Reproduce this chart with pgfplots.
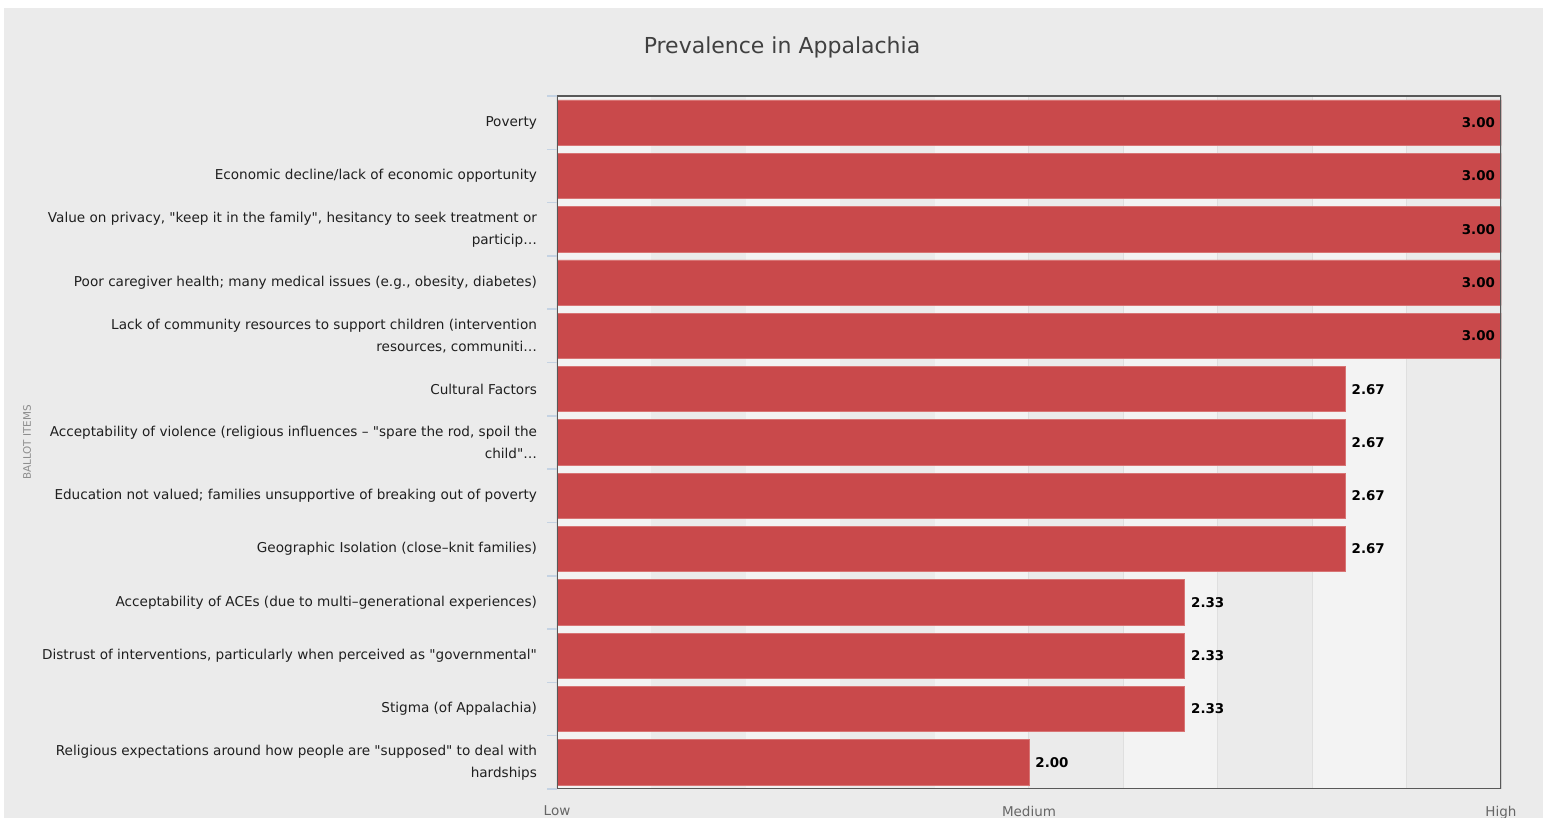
\documentclass[border=0pt]{standalone}
\usepackage{fontspec}
\setmainfont{DejaVu Sans}
\usepackage{pgfplots}
\pgfplotsset{compat=1.18}
\definecolor{bgc}{HTML}{EBEBEB}
\definecolor{bandl}{HTML}{F3F3F3}
\definecolor{bandd}{HTML}{EBEBEB}
\definecolor{barc}{HTML}{C9494B}
\definecolor{bare}{HTML}{D87474}
\definecolor{gridc}{HTML}{DFDFDF}
\definecolor{tickc}{HTML}{C5D3E3}
\definecolor{framec}{HTML}{585858}
\pagecolor{bgc}
\begin{document}
\begin{tikzpicture}[x=1pt,y=1pt]
\node[text=black!75, font=\fontsize{11}{14}\selectfont] at (391,386.5) {Prevalence in Appalachia};
\begin{axis}[
  at={(278.5pt,15.5pt)}, anchor=south west,
  scale only axis, width=472pt, height=346.5pt,
  set layers=standard,
  /pgf/number format/assume math mode=true,
  xbar, bar width=0.85, bar shift=0pt,
  xmin=1, xmax=3, ymin=-0.5, ymax=12.5, y dir=reverse,
  axis background/.style={fill=bandl},
  axis line style={draw=none},
  xtick={1,1.2,1.4,1.6,1.8,2,2.2,2.4,2.6,2.8,3},
  xticklabels={Low,,,,,Medium,,,,,High},
  xtick pos=bottom, ytick pos=left,
  xmajorgrids=true,
  major grid style={gridc, line width=0.6pt},
  major tick length=0pt,
  minor tick length=5pt,
  tick align=outside,
  ytick={0,1,...,12},
  minor ytick={-0.5,0.5,1.5,2.5,3.5,4.5,5.5,6.5,7.5,8.5,9.5,10.5,11.5,12.5},
  minor y tick style={tickc, line width=0.8pt},
  yticklabels={
    {Poverty},
    {Economic decline/lack of economic opportunity},
    {Value on privacy, \textquotedbl keep it in the family\textquotedbl, hesitancy to seek treatment or\\particip\ldots},
    {Poor caregiver health; many medical issues (e.g., obesity, diabetes)},
    {Lack of community resources to support children (intervention\\resources, communiti\ldots},
    {Cultural Factors},
    {Acceptability of violence (religious influences – \textquotedbl spare the rod, spoil the\\child\textquotedbl\ldots},
    {Education not valued; families unsupportive of breaking out of poverty},
    {Geographic Isolation (close–knit families)},
    {Acceptability of ACEs (due to multi–generational experiences)},
    {Distrust of interventions, particularly when perceived as \textquotedbl governmental\textquotedbl},
    {Stigma (of Appalachia)},
    {Religious expectations around how people are \textquotedbl supposed\textquotedbl{} to deal with\\hardships}
  },
  yticklabel style={font=\fontsize{6.8}{11}\selectfont, text=black!88, align=right, xshift=-6.5pt},
  xticklabel style={font=\fontsize{6.75}{9}\selectfont, text=black!60, yshift=-5pt},
  ylabel={BALLOT ITEMS},
  every axis y label/.style={at={(axis description cs:0,0.5)}, xshift=-265pt, rotate=90, anchor=center, font=\fontsize{5.2}{7}\selectfont, text=black!45},
  nodes near coords={\pgfmathprintnumber[fixed,zerofill,precision=2]{\pgfplotspointmeta}},
  every node near coord/.append style={font=\bfseries\fontsize{6.7}{9}\selectfont, text=black},
]
\fill[bandd, on layer=axis background] (axis cs:1.2,-0.5) rectangle (axis cs:1.4,12.5);
\fill[bandd, on layer=axis background] (axis cs:1.6,-0.5) rectangle (axis cs:1.8,12.5);
\fill[bandd, on layer=axis background] (axis cs:2.0,-0.5) rectangle (axis cs:2.2,12.5);
\fill[bandd, on layer=axis background] (axis cs:2.4,-0.5) rectangle (axis cs:2.6,12.5);
\fill[bandd, on layer=axis background] (axis cs:2.8,-0.5) rectangle (axis cs:3.0,12.5);
\addplot[fill=barc, draw=bare, line width=0.4pt,
  every node near coord/.append style={anchor=east, xshift=0.5pt}]
  coordinates {(3.00,0) (3.00,1) (3.00,2) (3.00,3) (3.00,4)};
\addplot[fill=barc, draw=bare, line width=0.4pt,
  every node near coord/.append style={anchor=west, xshift=-0.3pt}]
  coordinates {(2.67,5) (2.67,6) (2.67,7) (2.67,8) (2.33,9) (2.33,10) (2.33,11) (2.00,12)};
\draw[framec, line width=1pt, on layer=axis foreground] (rel axis cs:0,0) rectangle (rel axis cs:1,1);
\end{axis}
\fill[white] (0,406) rectangle (774.5,410);
\fill[white] (0,0) rectangle (774.5,1);
\fill[white] (0,0) rectangle (2,410);
\fill[white] (771.5,0) rectangle (774.5,410);
\pgfresetboundingbox
\useasboundingbox (0,0) rectangle (774.5,410);
\end{tikzpicture}
\end{document}
